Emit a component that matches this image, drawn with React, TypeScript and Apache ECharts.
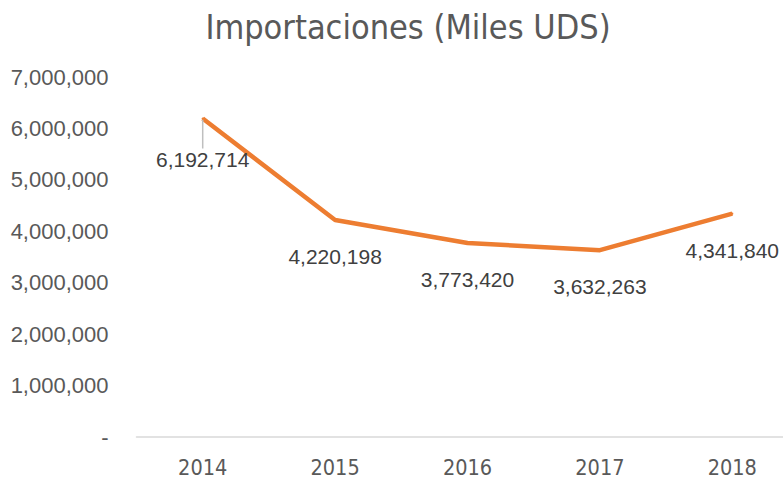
import React, { useEffect, useRef } from "react";
import * as echarts from "echarts";

const TITLE = "Importaciones (Miles UDS)";
const years = ["2014", "2015", "2016", "2017", "2018"];
const imports = [6192714, 4220198, 3773420, 3632263, 4341840];
const yMin = 0;
const yMax = 7000000;
const yStep = 1000000;

const fmt = (v: number) => (v === 0 ? "-" : v.toLocaleString("en-US"));

export default function App() {
  const ref = useRef<HTMLDivElement>(null);
  useEffect(() => {
    if (!ref.current) return;
    const chart = echarts.init(ref.current, undefined, { renderer: "svg" });
    chart.setOption({
      animation: false,
      backgroundColor: "#ffffff",
      graphic: [
        {
          type: "text",
          x: 408,
          y: 27,
          style: {
            text: TITLE,
            align: "center",
            verticalAlign: "middle",
            fill: "#595959",
            font: "34px 'Liberation Sans Narrow', 'DejaVu Sans Condensed', sans-serif",
          },
        },
      ],
      grid: { left: 136.5, width: 662, top: 77, bottom: 44, containLabel: false },
      xAxis: {
        type: "category",
        data: years,
        boundaryGap: true,
        axisLine: { show: true, lineStyle: { color: "#d9d9d9", width: 1.5 } },
        axisTick: { show: false },
        axisLabel: {
          margin: 19,
          color: "#595959",
          fontSize: 21.5,
          fontFamily: "'Liberation Sans Narrow', 'DejaVu Sans Condensed', sans-serif",
        },
        splitLine: { show: false },
      },
      yAxis: {
        type: "value",
        min: yMin,
        max: yMax,
        interval: yStep,
        axisLine: { show: false },
        axisTick: { show: false },
        splitLine: { show: false },
        axisLabel: {
          margin: 28,
          color: "#595959",
          fontSize: 22,
          fontFamily: "'Liberation Sans', Arial, sans-serif",
          formatter: (v: number) => fmt(v),
        },
      },
      series: [
        {
          type: "line",
          data: imports.map((v, i) =>
            i === 0 ? { value: v, labelLine: { show: true } } : { value: v }
          ),
          symbol: "circle",
          symbolSize: 2,
          itemStyle: { color: "#ED7D31" },
          lineStyle: { color: "#ED7D31", width: 4.5 },
          label: {
            show: true,
            position: "bottom",
            distance: 25,
            color: "#404040",
            fontSize: 21,
            fontFamily: "'Liberation Sans', Arial, sans-serif",
            formatter: (p: any) => fmt(p.value),
          },
          labelLayout: (p: any) => (p.dataIndex === 0 ? { dy: 4 } : {}),
          labelLine: { show: false, lineStyle: { color: "#bfbfbf", width: 1.5 } },
        },
      ],
    });
    return () => chart.dispose();
  }, []);
  return (
    <div
      ref={ref}
      style={{ position: "fixed", left: 0, top: 0, width: 810, height: 481 }}
    />
  );
}
